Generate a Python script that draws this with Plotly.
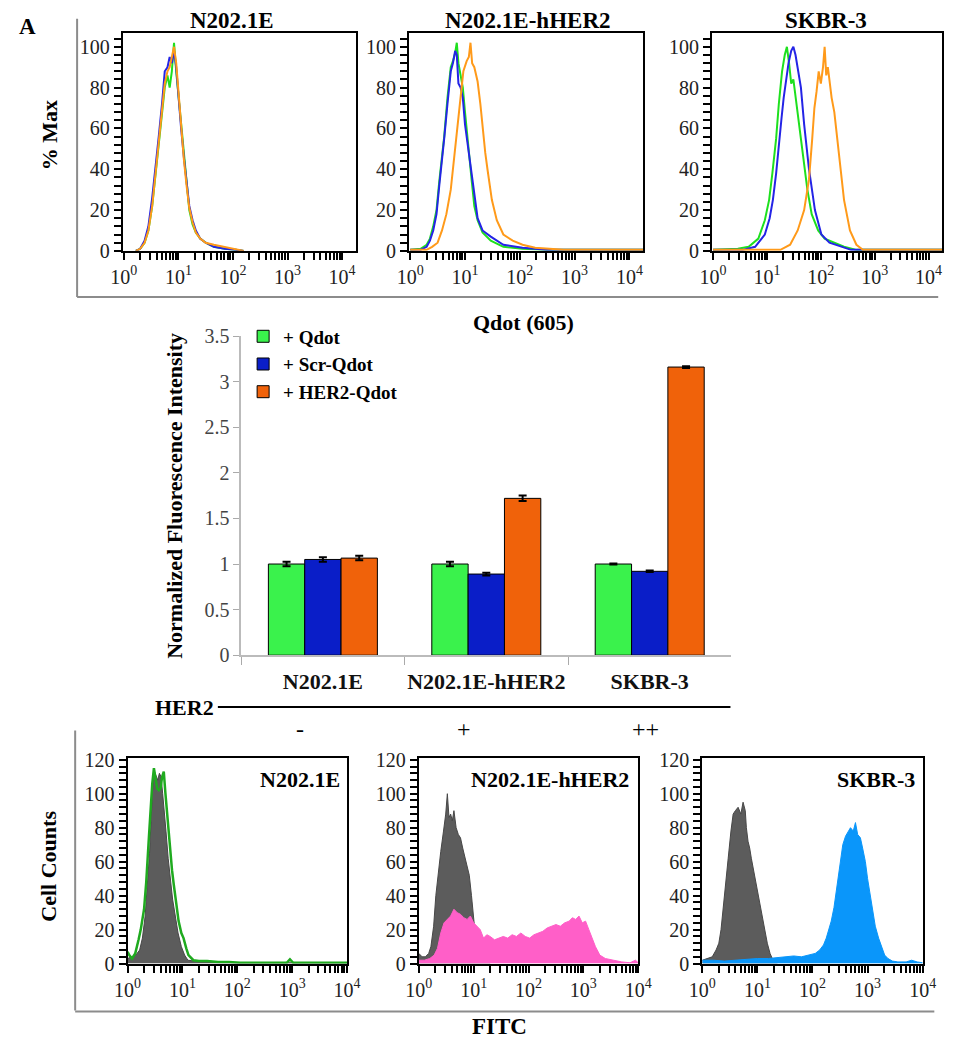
import plotly.graph_objects as go

W, H = 959, 1050
SERIF = "Liberation Serif"

# ------------------------------------------------------------------ data
top_titles = ["N202.1E", "N202.1E-hHER2", "SKBR-3"]
decade_labels = ["10<sup>0</sup>", "10<sup>1</sup>", "10<sup>2</sup>", "10<sup>3</sup>", "10<sup>4</sup>"]
decade_vals = [1, 10, 100, 1000, 10000]

# top row: Qdot(605) histograms, x = log10(intensity), y = % Max
p1_x = [0.22, 0.30, 0.38, 0.45, 0.52, 0.58, 0.64, 0.70, 0.75, 0.80, 0.84, 0.88, 0.92, 0.96, 1.00,
        1.05, 1.10, 1.15, 1.20, 1.26, 1.32, 1.40, 1.50, 1.65, 1.85, 2.05, 2.20]
p1_green = [0, 1, 4, 10, 22, 38, 54, 68, 80, 86, 80, 88, 102, 88, 76, 62, 46, 32, 20, 13, 9, 6, 4, 2, 1, 0.5, 0]
p1_blue = [0, 1, 5, 12, 26, 40, 56, 72, 88, 90, 95, 92, 98, 90, 76, 60, 46, 34, 22, 15, 10, 6, 4, 2, 1, 0.5, 0]
p1_orange = [0, 1, 4, 10, 22, 37, 54, 70, 82, 88, 90, 95, 100, 92, 78, 62, 45, 32, 21, 14, 9, 6, 4, 3, 2, 1, 0]

p2_gb_x = [0.0, 0.19, 0.30, 0.36, 0.42, 0.48, 0.53, 0.58, 0.62, 0.68, 0.74, 0.78, 0.82, 0.85, 0.88,
           0.92, 0.96, 1.00, 1.06, 1.12, 1.17, 1.23, 1.32, 1.47, 1.70, 2.05, 2.50, 4.25]
p2_green = [0.5, 1, 3, 6, 12, 20, 34, 45, 56, 75, 90, 93, 97, 102, 92, 86, 80, 68, 50, 35, 22, 15, 9, 5, 2, 1, 0.5, 0.5]
p2_blue = [0.5, 0.5, 2, 5, 10, 18, 32, 44, 55, 72, 88, 92, 98, 96, 82, 80, 75, 62, 50, 38, 28, 16, 10, 7, 3, 1.5, 0.5, 0.5]
p2_orange_x = [0.0, 0.30, 0.40, 0.50, 0.58, 0.66, 0.74, 0.80, 0.86, 0.91, 0.97, 1.03, 1.07, 1.10, 1.13,
               1.17, 1.23, 1.28, 1.32, 1.37, 1.41, 1.49, 1.58, 1.70, 1.87, 2.05, 2.28, 2.50, 2.80, 4.25]
p2_orange = [0.5, 0.5, 2, 4, 10, 18, 30, 45, 62, 75, 88, 93, 95, 102, 92, 90, 83, 72, 60, 48, 40, 25, 15, 8,
             5, 3, 1.5, 1, 0.5, 0.5]

p3_green_x = [0.0, 0.46, 0.66, 0.84, 0.96, 1.04, 1.10, 1.17, 1.22, 1.28, 1.33, 1.37, 1.41, 1.45, 1.49,
              1.57, 1.66, 1.75, 1.83, 1.95, 2.07, 2.25, 2.43, 2.66, 4.25]
p3_green = [0.5, 1, 2, 6, 15, 25, 38, 55, 72, 88, 96, 100, 92, 82, 84, 68, 48, 30, 18, 10, 6, 4, 2, 0.5, 0.5]
p3_blue_x = [0.0, 0.55, 0.78, 0.96, 1.05, 1.11, 1.17, 1.22, 1.27, 1.31, 1.36, 1.40, 1.45, 1.49, 1.53,
             1.57, 1.63, 1.69, 1.78, 1.89, 2.01, 2.16, 2.37, 2.56, 4.25]
p3_blue = [0.5, 0.5, 2, 8, 16, 25, 38, 50, 65, 75, 85, 92, 98, 100, 96, 90, 80, 62, 40, 20, 8, 4, 2, 0.5, 0.5]
p3_orange_x = [0.0, 1.25, 1.43, 1.57, 1.69, 1.78, 1.84, 1.88, 1.92, 1.96, 2.00, 2.04, 2.07, 2.10, 2.13,
               2.16, 2.20, 2.25, 2.34, 2.43, 2.54, 2.66, 2.78, 4.25]
p3_orange = [0.5, 0.5, 3, 10, 20, 35, 55, 70, 78, 88, 82, 90, 100, 86, 90, 82, 75, 68, 45, 25, 10, 3, 0.5, 0.5]

# middle: normalized fluorescence intensity bar chart
bar_categories = ["N202.1E", "N202.1E-hHER2", "SKBR-3"]
qdot_vals = [1.00, 1.00, 1.00]
qdot_err = [0.025, 0.025, 0.006]
scr_vals = [1.05, 0.89, 0.92]
scr_err = [0.025, 0.015, 0.008]
her2_vals = [1.065, 1.72, 3.16]
her2_err = [0.025, 0.03, 0.01]
her2_levels = ["-", "+", "++"]

# bottom row: FITC histograms, x = log10(intensity), y = cell counts
b1_gray_x = [0.0, 0.08, 0.15, 0.22, 0.27, 0.32, 0.36, 0.40, 0.43, 0.46, 0.49, 0.52, 0.55, 0.58, 0.61,
             0.64, 0.67, 0.70, 0.74, 0.78, 0.82, 0.87, 0.92, 0.98, 1.04, 1.10, 1.20, 1.35, 1.60, 2.00,
             2.50, 3.00, 3.50, 4.00]
b1_gray = [3, 4, 5, 8, 15, 28, 45, 65, 85, 105, 113, 110, 108, 112, 110, 100, 90, 78, 62, 48, 38, 28, 18,
           10, 5, 2, 1.5, 1, 1, 0.5, 0.5, 0.5, 0.5, 0.5]
b1_green_x = [0.0, 0.03, 0.08, 0.14, 0.20, 0.24, 0.30, 0.34, 0.39, 0.42, 0.45, 0.48, 0.51, 0.54, 0.57,
              0.60, 0.63, 0.66, 0.69, 0.72, 0.75, 0.78, 0.81, 0.84, 0.87, 0.93, 0.98, 1.02, 1.07, 1.11,
              1.20, 1.30, 1.45, 1.65, 1.85, 2.05, 2.30, 2.60, 2.90, 2.96, 3.02, 3.10, 3.50, 4.00]
b1_green = [7, 5, 3, 6, 14, 20, 32, 48, 75, 92, 106, 115, 110, 103, 102, 103, 110, 113, 100, 88, 75, 65,
            55, 47, 40, 25, 18, 15, 9, 5, 2, 1.5, 1.5, 1, 1, 0.5, 0.5, 0.5, 0.5, 2.5, 0.5, 0.5, 0.5, 0.5]

b2_gray_x = [0.0, 0.06, 0.12, 0.18, 0.22, 0.27, 0.31, 0.36, 0.40, 0.45, 0.49, 0.52, 0.55, 0.58, 0.61,
             0.64, 0.68, 0.72, 0.76, 0.80, 0.84, 0.88, 0.92, 0.96, 0.99, 1.02, 1.05, 1.10, 1.18, 1.30]
b2_gray = [6, 4, 4, 6, 10, 22, 40, 56, 66, 78, 88, 100, 86, 88, 84, 90, 80, 76, 74, 68, 62, 56, 52, 40,
           30, 20, 10, 5, 2, 0.5]
b2_pink_x = [0.0, 0.10, 0.20, 0.28, 0.34, 0.40, 0.46, 0.52, 0.58, 0.64, 0.70, 0.76, 0.82, 0.88, 0.94,
             1.00, 1.06, 1.12, 1.18, 1.24, 1.30, 1.38, 1.46, 1.54, 1.62, 1.70, 1.78, 1.86, 1.94, 2.02,
             2.10, 2.18, 2.26, 2.34, 2.42, 2.50, 2.58, 2.66, 2.74, 2.80, 2.86, 2.92, 2.98, 3.04, 3.10,
             3.16, 3.22, 3.30, 3.40, 3.55, 3.70, 3.85, 3.95, 4.00]
b2_pink = [2, 2, 3, 5, 9, 18, 24, 26, 28, 32, 30, 29, 27, 26, 28, 24, 22, 20, 15, 17, 16, 14, 15, 16, 15,
           17, 16, 18, 16, 15, 17, 18, 19, 21, 22, 23, 22, 24, 25, 27, 26, 28, 24, 25, 20, 15, 10, 5, 3,
           2, 1, 0.5, 2, 0.5]

b3_gray_x = [0.0, 0.10, 0.18, 0.25, 0.30, 0.34, 0.38, 0.42, 0.47, 0.52, 0.56, 0.60, 0.65, 0.70, 0.74,
             0.78, 0.80, 0.83, 0.86, 0.89, 0.93, 0.98, 1.03, 1.07, 1.12, 1.18, 1.23, 1.27, 1.32, 1.36]
b3_gray = [2, 3, 4, 8, 12, 20, 32, 45, 62, 78, 88, 90, 92, 88, 95, 90, 80, 72, 68, 62, 55, 48, 38, 32,
           22, 12, 6, 3, 1.5, 0.5]
b3_blue_x = [0.0, 0.20, 0.40, 0.60, 0.80, 1.00, 1.20, 1.36, 1.50, 1.66, 1.80, 1.95, 2.05, 2.13, 2.20,
             2.25, 2.30, 2.34, 2.39, 2.43, 2.47, 2.51, 2.55, 2.60, 2.65, 2.69, 2.74, 2.78, 2.82, 2.87,
             2.91, 2.96, 3.00, 3.05, 3.10, 3.14, 3.20, 3.25, 3.31, 3.37, 3.45, 3.55, 3.70, 3.80, 3.90, 4.00]
b3_blue = [2, 2, 1.5, 2, 2.5, 3, 3, 3.5, 4, 4.5, 4, 5, 6, 8, 11, 15, 20, 25, 33, 42, 52, 63, 70, 75, 78,
           80, 78, 83, 76, 74, 68, 60, 50, 40, 30, 22, 15, 10, 5, 3, 1.5, 1, 1, 2, 1, 0.5]

# ------------------------------------------------------------------ helpers
def px(x):
    return x / W


def py(y):
    return 1 - y / H


def lin(v):
    return [10 ** a for a in v]


GREEN, BLUE, ORANGE = "#1EE01E", "#2424E6", "#FF9A1A"
fig = go.Figure()

# ---- top row traces
top_sets = [
    [(p1_x, p1_green, GREEN), (p1_x, p1_blue, BLUE), (p1_x, p1_orange, ORANGE)],
    [(p2_gb_x, p2_green, GREEN), (p2_gb_x, p2_blue, BLUE), (p2_orange_x, p2_orange, ORANGE)],
    [(p3_green_x, p3_green, GREEN), (p3_blue_x, p3_blue, BLUE), (p3_orange_x, p3_orange, ORANGE)],
]
for i, sets in enumerate(top_sets):
    n = "" if i == 0 else str(i + 1)
    for xs, ys, c in sets:
        fig.add_trace(go.Scatter(x=lin(xs), y=ys, mode="lines", line=dict(color=c, width=2),
                                 xaxis="x" + n, yaxis="y" + n, showlegend=False, hoverinfo="skip"))

# ---- bar chart
bar_specs = [("+ Qdot", qdot_vals, qdot_err, "#3AF24C"),
             ("+ Scr-Qdot", scr_vals, scr_err, "#0A1EC8"),
             ("+ HER2-Qdot", her2_vals, her2_err, "#F0620A")]
for name, vals, err, col in bar_specs:
    fig.add_trace(go.Bar(x=bar_categories, y=vals, name=name,
                         marker=dict(color=col, line=dict(color="black", width=1)),
                         error_y=dict(type="data", array=err, color="black", thickness=2, width=4),
                         xaxis="x4", yaxis="y4", hoverinfo="skip"))

# ---- bottom row traces
fig.add_trace(go.Scatter(x=lin(b1_gray_x), y=b1_gray, mode="lines", fill="tozeroy",
                         fillcolor="#5C5C5C", line=dict(color="#474747", width=1),
                         xaxis="x5", yaxis="y5", showlegend=False, hoverinfo="skip"))
fig.add_trace(go.Scatter(x=lin(b1_green_x), y=b1_green, mode="lines", line=dict(color="#1FAA1F", width=2.5),
                         xaxis="x5", yaxis="y5", showlegend=False, hoverinfo="skip"))
fig.add_trace(go.Scatter(x=lin(b2_gray_x), y=b2_gray, mode="lines", fill="tozeroy",
                         fillcolor="#5C5C5C", line=dict(color="#474747", width=1),
                         xaxis="x6", yaxis="y6", showlegend=False, hoverinfo="skip"))
fig.add_trace(go.Scatter(x=lin(b2_pink_x), y=b2_pink, mode="lines", fill="tozeroy",
                         fillcolor="#FF5FC8", line=dict(color="#FF5FC8", width=1),
                         xaxis="x6", yaxis="y6", showlegend=False, hoverinfo="skip"))
fig.add_trace(go.Scatter(x=lin(b3_gray_x), y=b3_gray, mode="lines", fill="tozeroy",
                         fillcolor="#5C5C5C", line=dict(color="#474747", width=1),
                         xaxis="x7", yaxis="y7", showlegend=False, hoverinfo="skip"))
fig.add_trace(go.Scatter(x=lin(b3_blue_x), y=b3_blue, mode="lines", fill="tozeroy",
                         fillcolor="#0A96FA", line=dict(color="#0A96FA", width=1),
                         xaxis="x7", yaxis="y7", showlegend=False, hoverinfo="skip"))

# ------------------------------------------------------------------ axes
# ticks: labelled decades plus unlabelled intermediate ticks
x_tickvals, x_ticktext = [], []
for k, v in enumerate(decade_vals):
    x_tickvals.append(v)
    x_ticktext.append(decade_labels[k])
    if k < 4:
        for m in range(2, 10):
            x_tickvals.append(m * v)
            x_ticktext.append(" ")
tickfont = dict(family=SERIF, size=20, color="#222")


def y_ticks(top):
    vals = list(range(0, top + 1, 4))
    return vals, [str(v) if v % 20 == 0 else " " for v in vals]


def flow_x(x0, x1, anchor, rng):
    return dict(domain=[px(x0), px(x1)], anchor=anchor, type="log", range=rng,
                tickmode="array", tickvals=x_tickvals, ticktext=x_ticktext, tickangle=0,
                ticks="outside", ticklen=7, tickwidth=2, tickcolor="#000000",
                showline=True, linecolor="black", linewidth=2, mirror=True,
                showgrid=False, zeroline=False, tickfont=tickfont)


def flow_y(y0, y1, anchor, top, last_tick):
    tv, tt = y_ticks(last_tick)
    return dict(domain=[py(y1), py(y0)], anchor=anchor, range=[0, top],
                tickmode="array", tickvals=tv, ticktext=tt,
                ticks="outside", ticklen=7, tickwidth=2, tickcolor="#000000",
                showline=True, linecolor="black", linewidth=2, mirror=True,
                showgrid=False, zeroline=False, tickfont=tickfont)


layout = dict(
    width=W, height=H, margin=dict(l=0, r=0, t=0, b=0),
    paper_bgcolor="white", plot_bgcolor="white",
    barmode="group", bargap=0.333, bargroupgap=0,
    showlegend=True, hovermode=False,
    legend=dict(x=px(236), y=py(313), xanchor="left", yanchor="top",
                font=dict(family=SERIF, size=19, color="black", weight="bold"),
                bgcolor="rgba(0,0,0,0)", tracegroupgap=0, itemwidth=30),
)
top_x = [(112, 352), (407, 648), (719, 956)]
for i, (a, b) in enumerate(top_x):
    n = "" if i == 0 else str(i + 1)
    layout["xaxis" + n] = flow_x(a, b, "y" + n, [-0.02, 4.25])
    layout["yaxis" + n] = flow_y(22, 245, "x" + n, 107, 104)

bot_x = [(117, 343), (417, 643), (709, 936)]
for i, (a, b) in enumerate(bot_x):
    n = str(i + 5)
    layout["xaxis" + n] = flow_x(a, b, "y" + n, [0, 4.0])
    layout["yaxis" + n] = flow_y(763, 973, "x" + n, 121, 120)

layout["xaxis4"] = dict(domain=[px(234), px(739)], anchor="y4", type="category",
                        tickson="boundaries", ticks="outside", ticklen=8, tickcolor="#AAAAAA",
                        showline=True, linecolor="#BBBBBB", linewidth=1.5, showgrid=False,
                        tickangle=0, ticklabelstandoff=6,
                        tickfont=dict(family=SERIF, size=22, color="#111", weight="bold"))
layout["yaxis4"] = dict(domain=[py(658), py(332)], anchor="x4", range=[0, 3.5], dtick=0.5,
                        ticks="outside", ticklen=6, tickcolor="#AAAAAA",
                        showline=True, linecolor="#BBBBBB", linewidth=1.5, showgrid=False,
                        zeroline=False, tickfont=dict(family=SERIF, size=20, color="#444"))
fig.update_layout(**layout)

# ------------------------------------------------------------------ text
def ann(text, x, y, size=22, bold=True, angle=0, xanchor="center", color="black"):
    fig.add_annotation(text=text, x=px(x), y=py(y), xref="paper", yref="paper",
                       xanchor=xanchor, yanchor="middle", showarrow=False, textangle=angle,
                       font=dict(family=SERIF, size=size, color=color,
                                 weight="bold" if bold else "normal"))


ann("A", 14, 16, size=23)
for t, cx in zip(top_titles, [225, 529, 836]):
    ann(t, cx, 10, size=23)
ann("% Max", 36, 127, size=22, angle=-90)
ann("Qdot (605)", 525, 318, size=22)
ann("Normalized Fluorescence Intensity", 165, 495, size=22, angle=-90)
ann("HER2", 208, 711, size=22, xanchor="right")
for t, cx in zip(her2_levels, [295, 464, 650]):
    ann(t, cx, 733, size=24, bold=False)
ann("Cell Counts", 36, 873, size=22, angle=-90)
ann("FITC", 500, 1037, size=23)
for t, rx in zip(top_titles, [338, 636, 930]):
    ann(t, rx, 785, size=22, xanchor="right")

# ------------------------------------------------------------------ frame lines
def line(x0, y0, x1, y1, color, width):
    fig.add_shape(type="line", xref="paper", yref="paper", x0=px(x0), y0=py(y0), x1=px(x1), y1=py(y1),
                  line=dict(color=color, width=width))


line(65, 8, 65, 292, "#8C8C8C", 2)
line(65, 292, 952, 292, "#8C8C8C", 2)
line(63, 735, 63, 1021, "#8C8C8C", 2)
line(63, 1022, 948, 1022, "#8C8C8C", 2)
line(210, 711, 738, 711, "black", 2)

fig.write_html("out.html",
               config={"displayModeBar": False},
               post_script="document.body.style.margin='0px';"
                           "document.documentElement.style.overflow='hidden';")
